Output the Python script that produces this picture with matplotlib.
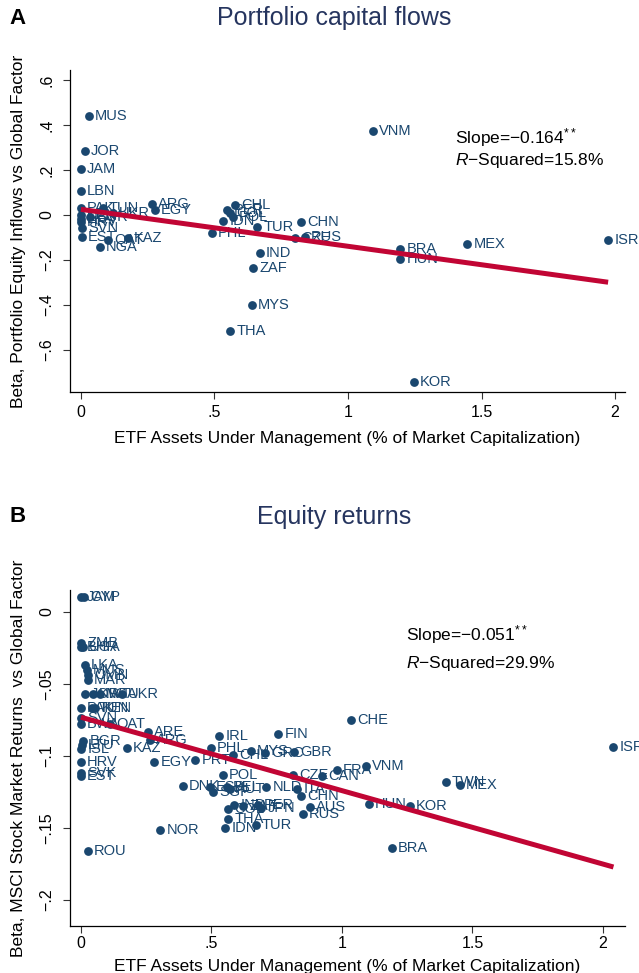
import matplotlib
matplotlib.use("Agg")
import matplotlib.pyplot as plt

plt.rcParams["font.family"] = ["Liberation Sans", "DejaVu Sans"]
plt.rcParams["mathtext.fontset"] = "custom"
plt.rcParams["mathtext.rm"] = "Liberation Sans"
plt.rcParams["mathtext.it"] = "Liberation Sans:italic"

NAVY = "#1a476f"
RED = "#c10534"
TITLE = "#26355f"

# Panel A: portfolio capital flows
a_codes = ["MUS", "JOR", "JAM", "LBN", "ARG", "EGY", "PAK", "TUN", "UKR", "KEN",
           "BGR", "LKA", "HRV", "SVN", "EST", "QAT", "KAZ", "NGA",
           "CHL", "PER", "COL", "POL", "IDN", "PHL", "TUR", "CHN", "CZE", "RUS",
           "IND", "ZAF", "MYS", "THA", "KOR", "VNM", "BRA", "HUN", "MEX", "ISR"]
a_etf = [0.03, 0.015, 0.0, 0.0, 0.266, 0.277, 0.0, 0.082, 0.12, 0.0,
         0.034, 0.0, 0.0, 0.004, 0.004, 0.10, 0.176, 0.071,
         0.577, 0.547, 0.558, 0.569, 0.532, 0.49, 0.659, 0.824, 0.80, 0.839,
         0.67, 0.644, 0.64, 0.558, 1.247, 1.094, 1.195, 1.195, 1.446, 1.974]
a_beta = [0.44, 0.285, 0.205, 0.107, 0.049, 0.022, 0.031, 0.031, 0.009, 0.0,
          -0.009, -0.02, -0.031, -0.058, -0.098, -0.111, -0.102, -0.142,
          0.044, 0.022, 0.009, -0.009, -0.027, -0.08, -0.053, -0.031, -0.102, -0.098,
          -0.169, -0.236, -0.40, -0.516, -0.742, 0.373, -0.151, -0.196, -0.129, -0.111]
a_intercept, a_slope = 0.025, -0.164

# Panel B: equity returns
b_codes = ["JAM", "CYP", "ZMB", "BHR", "UGA", "LKA", "MUS", "OMN", "MAR",
           "JOR", "KWT", "NGA", "UKR", "PAK", "TUN", "KEN", "SVN", "BWA", "QAT",
           "ARE", "ARG", "BGR", "LTU", "ISL", "HRV", "KAZ", "EGY", "PRT", "SVK", "EST",
           "IRL", "FIN", "CHE", "PHL", "MYS", "CHL", "GRC", "GBR", "POL", "DNK",
           "ESP", "SGP", "BEL", "AUT", "NLD", "CZE", "CAN", "FRA", "VNM", "ITA",
           "CHN", "AUS", "RUS", "HUN", "KOR", "COL", "IND", "ZAF", "PER", "JPN",
           "THA", "IDN", "TUR", "BRA", "NOR", "ROU", "TWN", "MEX", "ISR"]
b_etf = [0.0, 0.012, 0.0, 0.0, 0.008, 0.015, 0.023, 0.027, 0.027,
         0.015, 0.046, 0.073, 0.157, 0.0, 0.042, 0.054, 0.0, 0.0, 0.11,
         0.257, 0.264, 0.008, 0.004, 0.0, 0.0, 0.176, 0.28, 0.437, 0.0, 0.0,
         0.529, 0.755, 1.034, 0.498, 0.651, 0.583, 0.705, 0.816, 0.544, 0.39,
         0.494, 0.506, 0.559, 0.571, 0.709, 0.812, 0.923, 0.98, 1.092, 0.828,
         0.843, 0.877, 0.85, 1.103, 1.26, 0.563, 0.586, 0.621, 0.678, 0.69,
         0.563, 0.552, 0.67, 1.19, 0.303, 0.027, 1.398, 1.452, 2.04]
b_beta = [0.0104, 0.0104, -0.0215, -0.024, -0.024, -0.037, -0.040, -0.044, -0.047,
          -0.057, -0.057, -0.057, -0.057, -0.0667, -0.0667, -0.0667, -0.0736, -0.078, -0.078,
          -0.083, -0.089, -0.0896, -0.092, -0.095, -0.104, -0.0945, -0.104, -0.103, -0.112, -0.114,
          -0.086, -0.085, -0.075, -0.0945, -0.0965, -0.099, -0.098, -0.097, -0.113, -0.121,
          -0.1215, -0.125, -0.1215, -0.123, -0.1215, -0.113, -0.114, -0.1097, -0.107, -0.123,
          -0.128, -0.1355, -0.140, -0.133, -0.135, -0.1365, -0.134, -0.135, -0.134, -0.136,
          -0.144, -0.150, -0.148, -0.164, -0.151, -0.166, -0.118, -0.120, -0.0937]
b_intercept, b_slope = -0.073, -0.051

x_ticks = [0, 0.5, 1, 1.5, 2]
x_ticklabels = ["0", ".5", "1", "1.5", "2"]
a_yticks = [0.6, 0.4, 0.2, 0, -0.2, -0.4, -0.6]
a_yticklabels = [".6", ".4", ".2", "0", "\u2212.2", "\u2212.4", "\u2212.6"]
b_yticks = [0, -0.05, -0.1, -0.15, -0.2]
b_yticklabels = ["0", "\u2212.05", "\u2212.1", "\u2212.15", "\u2212.2"]

xlabel = "ETF Assets Under Management (% of Market Capitalization)"


def draw_panel(ax, codes, etf, beta, intercept, slope, yticks, yticklabels, ylabel, xpad):
    ax.scatter(etf, beta, s=40, color=NAVY, zorder=3, linewidths=0)
    for c, x, y in zip(codes, etf, beta):
        ax.annotate(c, (x, y), xytext=(4.5, 0), textcoords="offset points",
                    va="center", ha="left", fontsize=10.5, color=NAVY,
                    zorder=3, annotation_clip=False)
    x0, x1 = min(etf), max(etf)
    ax.plot([x0, x1], [intercept + slope * x0, intercept + slope * x1],
            color=RED, lw=3.6, zorder=4, solid_capstyle="butt")
    ax.set_xticks(x_ticks)
    ax.set_xticklabels(x_ticklabels)
    ax.set_yticks(yticks)
    ax.set_yticklabels(yticklabels, rotation=90, va="center")
    ax.tick_params(labelsize=11.5, length=5, width=0.8, color="#333333")
    ax.tick_params(axis="x", pad=xpad)
    ax.tick_params(axis="y", pad=6)
    for s in ["top", "right"]:
        ax.spines[s].set_visible(False)
    for s in ["left", "bottom"]:
        ax.spines[s].set_linewidth(0.9)
    ax.set_xlabel(xlabel, fontsize=12.5, labelpad=xpad + 4)
    ax.set_ylabel(ylabel, fontsize=12.5, labelpad=10)


fig = plt.figure(figsize=(6.39, 9.73), dpi=100)

ax1 = fig.add_axes([0.1095, 0.597, 0.8685, 0.331])
draw_panel(ax1, a_codes, a_etf, a_beta, a_intercept, a_slope,
           a_yticks, a_yticklabels, "Beta, Portfolio Equity Inflows vs Global Factor", 4)
ax1.set_xlim(-0.041, 2.037)
ax1.set_ylim(-0.787, 0.644)
ax1.text(0.693, 0.79, "Slope=\u22120.164$^{**}$", transform=ax1.transAxes,
         fontsize=12.5, va="center")
ax1.text(0.693, 0.72, "$\\mathit{R}$\u2212Squared=15.8%", transform=ax1.transAxes,
         fontsize=12.5, va="center")

ax2 = fig.add_axes([0.1095, 0.0483, 0.8685, 0.3453])
draw_panel(ax2, b_codes, b_etf, b_beta, b_intercept, b_slope,
           b_yticks, b_yticklabels, "Beta, MSCI Stock Market Returns  vs Global Factor", 2)
ax2.set_xlim(-0.042, 2.084)
ax2.set_ylim(-0.218, 0.0153)
ax2.text(0.606, 0.868, "Slope=\u22120.051$^{**}$", transform=ax2.transAxes,
         fontsize=12.5, va="center")
ax2.text(0.606, 0.782, "$\\mathit{R}$\u2212Squared=29.9%", transform=ax2.transAxes,
         fontsize=12.5, va="center")

fig.text(0.523, 0.981, "Portfolio capital flows", ha="center", va="center",
         fontsize=18, color=TITLE)
fig.text(0.523, 0.469, "Equity returns", ha="center", va="center",
         fontsize=18, color=TITLE)
fig.text(0.015, 0.981, "A", ha="left", va="center", fontsize=16, fontweight="bold")
fig.text(0.015, 0.469, "B", ha="left", va="center", fontsize=16, fontweight="bold")

fig.savefig("out.png", dpi=100)
